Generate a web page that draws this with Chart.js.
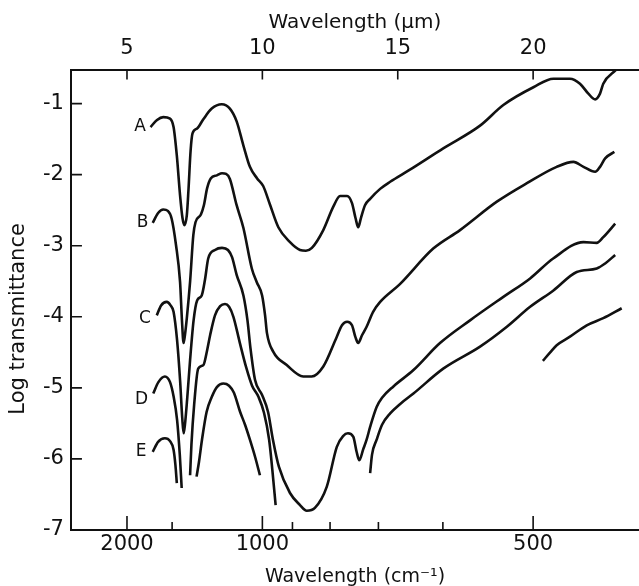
<!DOCTYPE html>
<html>
<head>
<meta charset="utf-8">
<script src="https://cdn.jsdelivr.net/npm/chart.js@4.4.1/dist/chart.umd.min.js"></script>
<style>
  html, body { margin: 0; padding: 0; background: #fff; }
</style>
</head>
<body>
<canvas id="irChart" width="639" height="586"></canvas>
<script>
// IR spectra, wavelength in um vs log transmittance. null = gap in the trace
const aWl  = [5.87, 6.11, 6.34, 6.59, 6.72, 6.84, 6.96, 7.05, 7.12, 7.21, 7.27, 7.35, 7.42, 7.59, 7.82, 8.13, 8.50, 8.80, 9.05, 9.30, 9.54, 9.80, 10.03, 10.28, 10.59, 11.02, 11.39, 11.61, 11.83, 12.25, 12.62, 12.87, 13.13, 13.31, 13.44, 13.54, 13.64, 13.79, 13.98, 14.35, 14.72, 15.45, 16.68, 18.04, 18.90, 20.01, 20.75, 21.36, 21.73, 22.04, 22.29, 22.47, 22.59, 23.05];
const aLog = [-1.33, -1.23, -1.19, -1.21, -1.33, -1.73, -2.29, -2.61, -2.71, -2.57, -2.22, -1.66, -1.42, -1.35, -1.22, -1.07, -1.01, -1.07, -1.25, -1.59, -1.89, -2.05, -2.16, -2.42, -2.74, -2.95, -3.06, -3.07, -3.03, -2.78, -2.45, -2.30, -2.30, -2.40, -2.61, -2.74, -2.61, -2.43, -2.34, -2.20, -2.10, -1.93, -1.63, -1.31, -1.02, -0.77, -0.65, -0.65, -0.72, -0.86, -0.94, -0.86, -0.72, -0.53];

const bWl  = [5.95, 6.15, 6.34, 6.51, 6.65, 6.81, 6.96, 7.03, 7.09, 7.14, 7.21, 7.33, 7.45, 7.53, 7.73, 7.84, 7.96, 8.10, 8.32, 8.51, 8.66, 8.80, 9.05, 9.30, 9.61, 9.79, 9.99, 10.10, 10.17, 10.40, 10.90, 11.51, 11.82, 12.25, 12.75, 12.94, 13.13, 13.31, 13.44, 13.54, 13.68, 13.85, 14.09, 14.35, 15.08, 16.31, 17.30, 18.66, 19.77, 20.87, 21.49, 21.86, 22.29, 22.47, 22.66, 23.00];
const bLog = [-2.68, -2.54, -2.49, -2.51, -2.62, -2.99, -3.51, -4.05, -4.37, -4.26, -4.02, -3.51, -2.85, -2.67, -2.56, -2.43, -2.19, -2.05, -2.01, -1.98, -1.99, -2.06, -2.43, -2.75, -3.32, -3.51, -3.70, -3.98, -4.23, -4.49, -4.68, -4.84, -4.84, -4.70, -4.28, -4.12, -4.07, -4.12, -4.29, -4.37, -4.26, -4.14, -3.93, -3.79, -3.54, -3.04, -2.78, -2.38, -2.12, -1.89, -1.82, -1.89, -1.96, -1.89, -1.77, -1.68];

const cWl  = [6.10, 6.26, 6.47, 6.61, 6.72, 6.85, 6.96, 7.04, 7.09, 7.14, 7.22, 7.33, 7.46, 7.59, 7.76, 7.88, 8.00, 8.25, 8.51, 8.73, 8.88, 9.05, 9.30, 9.45, 9.56, 9.73, 9.99, 10.21, 10.39, 10.61, 11.02, 11.39, 11.64, 11.94, 12.38, 12.75, 12.98, 13.16, 13.36, 13.48, 13.58, 13.72, 13.85, 13.98, 14.22, 14.42, 14.84, 15.58, 16.56, 17.67, 18.90, 19.89, 20.74, 21.86, 22.35, 22.59, 23.03];
const cLog = [-3.98, -3.84, -3.79, -3.84, -3.93, -4.33, -4.89, -5.42, -5.64, -5.52, -5.17, -4.61, -4.05, -3.77, -3.70, -3.48, -3.18, -3.06, -3.03, -3.06, -3.16, -3.41, -3.70, -4.05, -4.44, -4.89, -5.10, -5.34, -5.73, -6.11, -6.48, -6.65, -6.73, -6.69, -6.39, -5.83, -5.68, -5.64, -5.69, -5.90, -6.02, -5.87, -5.73, -5.55, -5.27, -5.14, -4.98, -4.75, -4.37, -4.05, -3.72, -3.46, -3.18, -2.95, -2.96, -2.88, -2.69];

const dWl  = [5.97, 6.16, 6.40, 6.59, 6.72, 6.85, 6.95, 7.02, null,
              7.33, 7.38, 7.48, 7.63, 7.82, 7.96, 8.07, 8.25, 8.44, 8.62, 8.77, 8.93, 9.17, 9.40, 9.62, 9.86, 10.06, 10.25, 10.37, 10.49, null,
              13.98, 14.05, 14.22, 14.42, 14.72, 15.08, 15.58, 16.68, 18.04, 19.03, 19.89, 20.75, 21.61, 22.35, 22.66, 23.03];
const dLog = [-5.08, -4.92, -4.84, -4.92, -5.12, -5.45, -5.94, -6.41, null,
              -6.23, -5.80, -5.24, -4.73, -4.68, -4.47, -4.26, -3.98, -3.85, -3.82, -3.86, -4.00, -4.37, -4.71, -4.97, -5.13, -5.35, -5.73, -6.16, -6.65, null,
              -6.20, -5.94, -5.73, -5.52, -5.36, -5.23, -5.08, -4.73, -4.42, -4.14, -3.86, -3.63, -3.37, -3.32, -3.25, -3.13];

const eWl  = [5.95, 6.15, 6.40, 6.59, 6.72, 6.79, 6.84, null,
              7.57, 7.66, 7.77, 7.94, 8.13, 8.32, 8.56, 8.77, 8.95, 9.17, 9.36, 9.54, 9.73, 9.91, null,
              20.36, 20.63, 20.87, 21.36, 21.98, 22.59, 23.27];
const eLog = [-5.90, -5.76, -5.71, -5.75, -5.87, -6.09, -6.34, null,
              -6.25, -6.04, -5.73, -5.34, -5.13, -4.99, -4.94, -4.97, -5.07, -5.33, -5.52, -5.73, -5.97, -6.23, null,
              -4.62, -4.50, -4.40, -4.28, -4.12, -4.02, -3.88];

// curve letters and where they sit (um, log T)
const curveNames = ['A', 'B', 'C', 'D', 'E'];
const nameWl  = [5.48, 5.58, 5.66, 5.54, 5.52];
const nameLog = [-1.33, -2.68, -4.02, -5.17, -5.90];

// axes
const topTicks = [5, 10, 15, 20];                 // um
const bottomMajor = [2000, 1000, 500];            // cm-1
const bottomMinor = [1500, 900, 800, 700, 600];   // cm-1
const yTicks = [-1, -2, -3, -4, -5, -6, -7];
const wlMin = 2.93, wlMax = 23.91;
const logMin = -7, logMax = -0.52;

const FONT = "'DejaVu Sans', sans-serif";
const INK = '#111';

// split wl/log arrays at the nulls, one dataset per piece
function makeSegments(wl, lg) {
    const segs = [];
    let cur = [];
    wl.forEach((w, i) => {
        if (w === null) {
            if (cur.length) segs.push(cur);
            cur = [];
        } else {
            cur.push({ x: w, y: lg[i] });
        }
    });
    if (cur.length) segs.push(cur);
    return segs;
}

const datasets = [];
[[aWl, aLog], [bWl, bLog], [cWl, cLog], [dWl, dLog], [eWl, eLog]].forEach(([wl, lg]) => {
    makeSegments(wl, lg).forEach(seg => {
        datasets.push({ data: seg, borderColor: INK, borderWidth: 2.6, pointRadius: 0, fill: false });
    });
});

// ticks point into the plot on all three axes
const inwardTicks = {
    id: 'inwardTicks',
    afterDraw(chart) {
        const { ctx, chartArea: a, scales } = chart;
        ctx.save();
        ctx.strokeStyle = INK;
        ctx.lineWidth = 1.6;
        ctx.beginPath();
        scales.x.ticks.forEach(t => {
            const px = scales.x.getPixelForValue(t.value);
            const major = bottomMajor.includes(Math.round(10000 / t.value));
            ctx.moveTo(px, a.bottom);
            ctx.lineTo(px, a.bottom - (major ? 14 : 8));
        });
        scales.x2.ticks.forEach(t => {
            const px = scales.x2.getPixelForValue(t.value);
            ctx.moveTo(px, a.top);
            ctx.lineTo(px, a.top + 10);
        });
        scales.y.ticks.forEach(t => {
            const py = scales.y.getPixelForValue(t.value);
            ctx.moveTo(a.left, py);
            ctx.lineTo(a.left + 11, py);
        });
        ctx.stroke();
        ctx.restore();
    }
};

// curve letters + the rotated y title (sits a bit below the axis middle)
const curveLetters = {
    id: 'curveLetters',
    afterDatasetsDraw(chart) {
        const { ctx, scales } = chart;
        ctx.save();
        ctx.fillStyle = INK;
        ctx.font = '17px ' + FONT;
        ctx.textAlign = 'center';
        ctx.textBaseline = 'middle';
        curveNames.forEach((n, i) => {
            ctx.fillText(n, scales.x.getPixelForValue(nameWl[i]), scales.y.getPixelForValue(nameLog[i]));
        });
        ctx.translate(19, scales.y.getPixelForValue(-4.03));
        ctx.rotate(-Math.PI / 2);
        ctx.font = '21px ' + FONT;
        ctx.fillText('Log transmittance', 0, 0);
        ctx.restore();
    }
};

const noGrid = { drawOnChartArea: false, drawTicks: false };
const axisLine = { display: true, color: INK, width: 2 };
const tickFont = { family: FONT, size: 21 };

const ctx = document.getElementById('irChart').getContext('2d');
new Chart(ctx, {
    type: 'line',
    data: { datasets: datasets },
    options: {
        responsive: false,
        animation: false,
        layout: { padding: { left: 36, right: 0, top: 0, bottom: 0 } },
        elements: { line: { cubicInterpolationMode: 'monotone' } },
        plugins: { legend: { display: false }, tooltip: { enabled: false } },
        scales: {
            x: {
                type: 'linear',
                position: 'bottom',
                min: wlMin,
                max: wlMax,
                afterBuildTicks: (s) => {
                    s.ticks = bottomMajor.concat(bottomMinor).map(c => ({ value: 10000 / c }));
                },
                ticks: {
                    autoSkip: false,
                    maxRotation: 0,
                    padding: 2.4,
                    color: INK,
                    font: tickFont,
                    callback: (v) => {
                        const cm = Math.round(10000 / v);
                        return bottomMajor.includes(cm) ? String(cm) : '';
                    }
                },
                grid: noGrid,
                border: axisLine,
                title: {
                    display: true,
                    text: 'Wavelength (cm\u207B\u00B9)',
                    color: INK,
                    font: { family: FONT, size: 19, lineHeight: 0.95 },
                    padding: { top: 8, bottom: 0 }
                }
            },
            x2: {
                type: 'linear',
                axis: 'x',
                position: 'top',
                min: wlMin,
                max: wlMax,
                afterBuildTicks: (s) => {
                    s.ticks = topTicks.map(v => ({ value: v }));
                },
                ticks: {
                    autoSkip: false,
                    maxRotation: 0,
                    padding: 8.4,
                    color: INK,
                    font: tickFont,
                    callback: (v) => String(v)
                },
                grid: noGrid,
                border: axisLine,
                title: {
                    display: true,
                    text: 'Wavelength (\u00B5m)',
                    color: INK,
                    font: { family: FONT, size: 20, lineHeight: 0.5 },
                    padding: { top: 17.5, bottom: 0 }
                }
            },
            y: {
                type: 'linear',
                min: logMin,
                max: logMax,
                afterBuildTicks: (s) => {
                    s.ticks = yTicks.map(v => ({ value: v }));
                },
                ticks: {
                    padding: 7,
                    color: INK,
                    font: tickFont,
                    callback: (v) => String(v)
                },
                grid: noGrid,
                border: axisLine
            }
        }
    },
    plugins: [inwardTicks, curveLetters]
});
</script>
</body>
</html>
